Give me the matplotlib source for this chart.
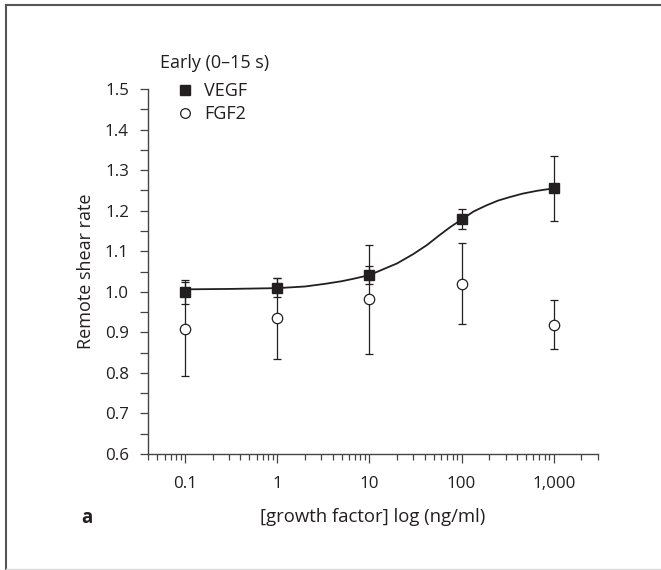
import numpy as np
import matplotlib
matplotlib.use("Agg")
import matplotlib.pyplot as plt
from matplotlib.lines import Line2D
from matplotlib.ticker import LogLocator, FixedLocator, MultipleLocator, NullFormatter

plt.rcParams['font.family'] = ['Open Sans', 'DejaVu Sans']

# Data
doses = [0.1, 1, 10, 100, 1000]
dose_labels = ['0.1', '1', '10', '100', '1,000']
vegf_mean = [1.000, 1.010, 1.041, 1.179, 1.255]
vegf_err = [0.029, 0.024, 0.022, 0.025, 0.080]
fgf2_mean = [0.908, 0.935, 0.981, 1.020, 0.919]
fgf2_err = [0.116, 0.100, 0.134, 0.100, 0.060]

# fitted curve
curve_x = [0.1, 0.3, 1, 2, 3.4, 5, 6.7, 10, 13, 20, 30, 42, 58, 76, 100,
           135, 186, 250, 340, 460, 660, 1000]
curve_y = [1.006, 1.007, 1.009, 1.013, 1.020, 1.026, 1.032, 1.041, 1.052,
           1.070, 1.093, 1.115, 1.140, 1.160, 1.178, 1.198, 1.213, 1.225,
           1.234, 1.242, 1.249, 1.255]

ink = '#231f20'
W, H = 661, 570
fig = plt.figure(figsize=(W / 100, H / 100), dpi=100)

# axes placed in pixel terms
left, right, top, bottom = 148.3, 597.7, 89, 454
ax = fig.add_axes([left / W, 1 - bottom / H, (right - left) / W, (bottom - top) / H])

ax.plot(curve_x, curve_y, color=ink, lw=1.3, zorder=2)
ax.errorbar(doses, fgf2_mean, yerr=fgf2_err, fmt='o', color=ink, mfc='white',
            mec=ink, mew=0.9, ms=7.5, elinewidth=0.9, capsize=2.6, capthick=0.9,
            zorder=3, label='FGF2')
ax.errorbar(doses, vegf_mean, yerr=vegf_err, fmt='s', color=ink, mfc=ink,
            mec=ink, ms=7.2, elinewidth=0.9, capsize=2.6, capthick=0.9,
            zorder=4, label='VEGF')

ax.set_xscale('log')
ax.set_xlim(0.04, 3000)
ax.set_ylim(0.6, 1.5)

for s in ['top', 'right']:
    ax.spines[s].set_visible(False)
for s in ['left', 'bottom']:
    ax.spines[s].set_color('#444444')
    ax.spines[s].set_linewidth(1.0)

ax.xaxis.set_major_locator(FixedLocator(doses))
ax.set_xticklabels(dose_labels)
ax.xaxis.set_minor_locator(LogLocator(base=10, subs=np.arange(2, 10), numticks=20))
ax.xaxis.set_minor_formatter(NullFormatter())
ax.yaxis.set_major_locator(MultipleLocator(0.1))
ax.yaxis.set_minor_locator(MultipleLocator(0.05))
ax.yaxis.set_major_formatter(plt.FuncFormatter(lambda v, p: f'{v:.1f}'))

ax.tick_params(axis='both', which='both', direction='out', color='#444444',
               width=0.9, labelsize=12.2, labelcolor=ink)
ax.tick_params(axis='x', which='major', length=6.5, pad=9)
ax.tick_params(axis='x', which='minor', length=4)
ax.tick_params(axis='y', which='major', length=6, pad=8)
ax.tick_params(axis='y', which='minor', length=6)

ax.set_ylabel('Remote shear rate', fontsize=13, color=ink, labelpad=7)
ax.set_xlabel('[growth factor] log (ng/ml)', fontsize=13.3, color=ink, labelpad=12)

# legend
handles = [Line2D([], [], marker='s', ls='none', color=ink, ms=6.5),
           Line2D([], [], marker='o', ls='none', mfc='white', mec=ink, mew=0.9, ms=7)]
leg = ax.legend(handles, ['VEGF', 'FGF2'], loc='upper left', frameon=False,
                bbox_to_anchor=(176 / W, 1 - 82 / H), bbox_transform=fig.transFigure,
                borderaxespad=0, borderpad=0, handlelength=1.0, handletextpad=0.55,
                labelspacing=0.3, fontsize=13)
for t in leg.get_texts():
    t.set_color(ink)
fig.text(160 / W, 1 - 63 / H, 'Early (0\u201315 s)', fontsize=13, color=ink,
         ha='left', va='center')

fig.text(81 / W, 1 - 518 / H, 'a', fontsize=13.5, fontweight='bold', color=ink,
         ha='left', va='center')

# frame around the panel
fig.add_artist(Line2D([6 / W, 6 / W], [0, 1 - 5 / H], color='#555555', lw=1.5,
                      transform=fig.transFigure))
fig.add_artist(Line2D([6 / W, 1], [1 - 5 / H, 1 - 5 / H], color='#555555', lw=1.5,
                      transform=fig.transFigure))
fig.add_artist(Line2D([6 / W, 1], [1 - 569 / H, 1 - 569 / H], color='#dddddd', lw=1.0,
                      transform=fig.transFigure))

fig.savefig('out.png', dpi=100)
